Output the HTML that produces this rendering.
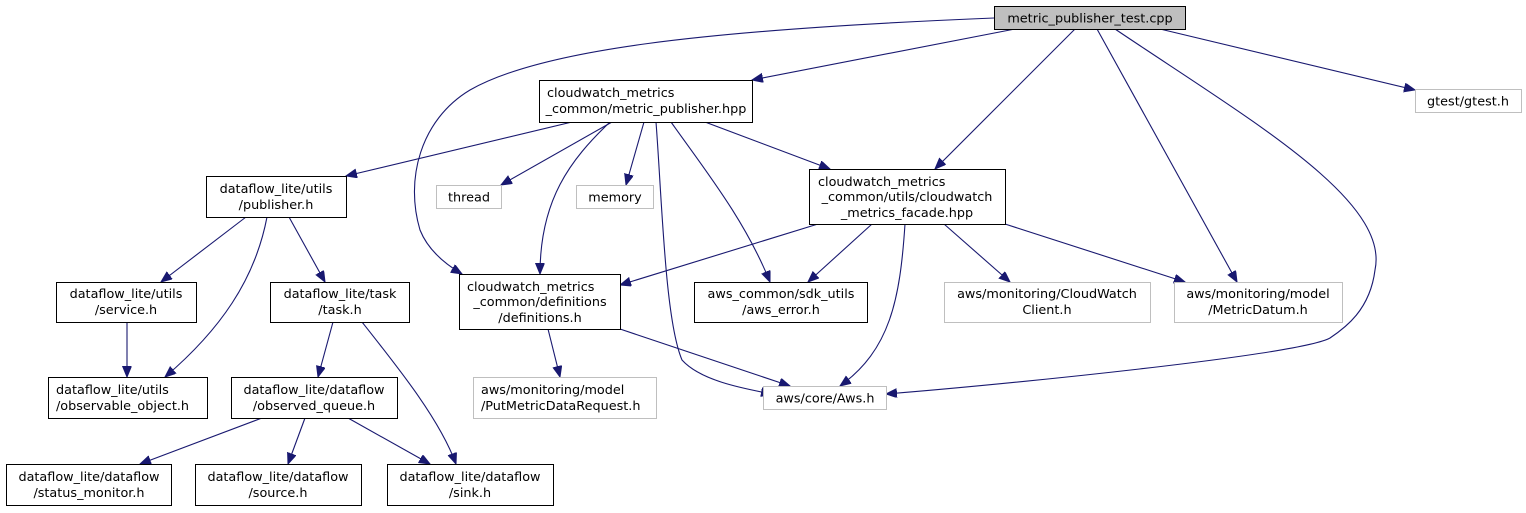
<!DOCTYPE html>
<html><head><meta charset="utf-8"><style>
html,body{margin:0;padding:0;background:#fff;}
svg{display:block;}
text{font-family:"DejaVu Sans","Liberation Sans",sans-serif;font-size:12.8px;fill:#000;}
.e{fill:none;stroke:#191970;stroke-width:1.1;}
.b{fill:#fff;stroke:#000;stroke-width:1;}
.g{fill:#fff;stroke:#bfbfbf;stroke-width:1;}
</style></head><body>
<svg width="1526" height="513" viewBox="0 0 1526 513" xmlns="http://www.w3.org/2000/svg">
<defs><marker id="a" markerUnits="userSpaceOnUse" markerWidth="12" markerHeight="10" refX="11" refY="4.5" orient="auto"><path d="M0,0 L11,4.5 L0,9 z" fill="#191970" stroke="#191970"/></marker></defs>
<g marker-end="url(#a)">
<path class="e" d="M1015,29 L752,80"/>
<path class="e" d="M1160,29 L1415,90"/>
<path class="e" d="M1075,29 L935,169"/>
<path class="e" d="M1097,29 L1237,282"/>
<path class="e" d="M1115,29 C1250,120 1390,200 1375,270 C1370,310 1345,328 1330,338 C1300,355 1000,385 886,394"/>
<path class="e" d="M994,18 C700,30 540,50 470,90 C420,120 405,180 420,230 C428,250 445,264 462,274"/>
<path class="e" d="M572,122 L346,176"/>
<path class="e" d="M612,122 L501,185"/>
<path class="e" d="M644,122 L626,185"/>
<path class="e" d="M610,122 C570,160 540,200 540,274"/>
<path class="e" d="M656,122 C662,200 665,320 682,360 C700,380 740,388 772,394"/>
<path class="e" d="M671,122 C705,170 745,220 770,282"/>
<path class="e" d="M705,122 L830,169"/>
<path class="e" d="M246,217 L161,282"/>
<path class="e" d="M267,217 C255,280 220,330 165,377"/>
<path class="e" d="M289,217 L325,282"/>
<path class="e" d="M127,322 L127,377"/>
<path class="e" d="M333,322 L318,377"/>
<path class="e" d="M362,322 C400,370 440,420 456,464"/>
<path class="e" d="M262,418 L140,464"/>
<path class="e" d="M305,418 L288,464"/>
<path class="e" d="M348,418 L430,464"/>
<path class="e" d="M818,224 L620,285"/>
<path class="e" d="M872,224 L808,282"/>
<path class="e" d="M905,224 C900,300 890,350 840,386"/>
<path class="e" d="M944,224 L1010,282"/>
<path class="e" d="M1005,224 L1185,282"/>
<path class="e" d="M548,329 L560,377"/>
<path class="e" d="M620,329 L790,386"/>
</g>
<rect x="994.5" y="6.5" width="191" height="23" fill="#bfbfbf" stroke="#000"/>
<text x="1090" y="22.5" text-anchor="middle">metric_publisher_test.cpp</text>
<rect class="b" x="539.5" y="80.5" width="213" height="42"/>
<text x="547" y="97">cloudwatch_metrics</text><text x="646" y="113" text-anchor="middle">_common/metric_publisher.hpp</text>
<rect class="g" x="1415.5" y="89.5" width="106" height="23"/>
<text x="1468" y="105.5" text-anchor="middle">gtest/gtest.h</text>
<rect class="b" x="206.5" y="176.5" width="140" height="41"/>
<text x="276" y="193" text-anchor="middle">dataflow_lite/utils</text><text x="276" y="209" text-anchor="middle">/publisher.h</text>
<rect class="g" x="436.5" y="185.5" width="65" height="23"/>
<text x="469" y="201.5" text-anchor="middle">thread</text>
<rect class="g" x="576.5" y="185.5" width="77" height="23"/>
<text x="615" y="201.5" text-anchor="middle">memory</text>
<rect class="b" x="809.5" y="169.5" width="196" height="55"/>
<text x="818" y="186">cloudwatch_metrics</text><text x="907" y="201" text-anchor="middle">_common/utils/cloudwatch</text><text x="907" y="217" text-anchor="middle">_metrics_facade.hpp</text>
<rect class="b" x="56.5" y="282.5" width="140" height="40"/>
<text x="126" y="298" text-anchor="middle">dataflow_lite/utils</text><text x="126" y="314" text-anchor="middle">/service.h</text>
<rect class="b" x="270.5" y="282.5" width="139" height="40"/>
<text x="340" y="298" text-anchor="middle">dataflow_lite/task</text><text x="340" y="314" text-anchor="middle">/task.h</text>
<rect class="b" x="459.5" y="274.5" width="161" height="55"/>
<text x="467" y="291">cloudwatch_metrics</text><text x="540" y="306" text-anchor="middle">_common/definitions</text><text x="540" y="322" text-anchor="middle">/definitions.h</text>
<rect class="b" x="694.5" y="282.5" width="173" height="40"/>
<text x="781" y="298" text-anchor="middle">aws_common/sdk_utils</text><text x="781" y="314" text-anchor="middle">/aws_error.h</text>
<rect class="g" x="944.5" y="282.5" width="206" height="40"/>
<text x="1047" y="298" text-anchor="middle">aws/monitoring/CloudWatch</text><text x="1047" y="314" text-anchor="middle">Client.h</text>
<rect class="g" x="1174.5" y="282.5" width="168" height="40"/>
<text x="1258" y="298" text-anchor="middle">aws/monitoring/model</text><text x="1258" y="314" text-anchor="middle">/MetricDatum.h</text>
<rect class="b" x="48.5" y="377.5" width="159" height="41"/>
<text x="56" y="394">dataflow_lite/utils</text><text x="56" y="410">/observable_object.h</text>
<rect class="b" x="231.5" y="377.5" width="166" height="41"/>
<text x="314" y="394" text-anchor="middle">dataflow_lite/dataflow</text><text x="314" y="410" text-anchor="middle">/observed_queue.h</text>
<rect class="g" x="473.5" y="377.5" width="183" height="41"/>
<text x="481" y="394">aws/monitoring/model</text><text x="481" y="410">/PutMetricDataRequest.h</text>
<rect class="g" x="763.5" y="386.5" width="123" height="23"/>
<text x="825" y="402.5" text-anchor="middle">aws/core/Aws.h</text>
<rect class="b" x="6.5" y="464.5" width="165" height="41"/>
<text x="89" y="481" text-anchor="middle">dataflow_lite/dataflow</text><text x="89" y="497" text-anchor="middle">/status_monitor.h</text>
<rect class="b" x="195.5" y="464.5" width="166" height="41"/>
<text x="278" y="481" text-anchor="middle">dataflow_lite/dataflow</text><text x="278" y="497" text-anchor="middle">/source.h</text>
<rect class="b" x="387.5" y="464.5" width="166" height="41"/>
<text x="470" y="481" text-anchor="middle">dataflow_lite/dataflow</text><text x="470" y="497" text-anchor="middle">/sink.h</text>
</svg>
</body></html>
